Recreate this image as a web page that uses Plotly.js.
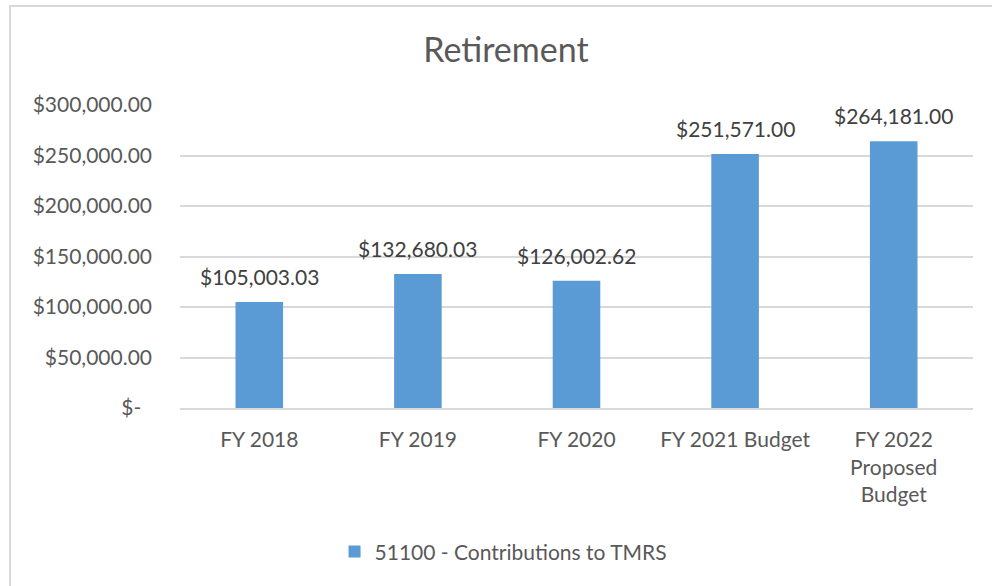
<!DOCTYPE html>
<html>
<head>
<meta charset="utf-8">
<script src="https://cdn.plot.ly/plotly-3.0.1.min.js"></script>
<style>
  body { margin: 0; background: #fff; }
  #frame { position: absolute; left: 9px; top: 5px; width: 990px; height: 590px;
           border-left: 2px solid #d9d9d9; border-top: 2px solid #d9d9d9; }
  #graph { position: absolute; left: 0; top: 0; width: 992px; height: 586px; }
</style>
</head>
<body>
<div id="frame"></div>
<div id="graph"></div>
<script>
const years = ['FY 2018', 'FY 2019', 'FY 2020', 'FY 2021 Budget', 'FY 2022<br>Proposed<br>Budget'];
const contributions = [105003.03, 132680.03, 126002.62, 251571.00, 264181.00];
const seriesName = '51100 - Contributions to TMRS';
const tickValues = [0, 50000, 100000, 150000, 200000, 250000, 300000];

const money = v => v === 0
  ? '$-\u00a0\u00a0'
  : '$' + v.toLocaleString('en-US', { minimumFractionDigits: 2, maximumFractionDigits: 2 });

const textColor = '#595959';
const fontFamily = 'Lato, "Open Sans", sans-serif';
const fontSize = 21;

const trace = {
  type: 'bar',
  x: years,
  y: contributions,
  name: seriesName,
  marker: { color: '#5b9bd5' },
  hoverinfo: 'none'
};

// value labels above each bar
const labels = years.map((yr, i) => ({
  x: yr,
  y: contributions[i],
  text: money(contributions[i]),
  showarrow: false,
  yanchor: 'bottom',
  yshift: 11,
  font: { family: fontFamily, size: fontSize, color: '#404040' }
}));

const layout = {
  width: 992,
  height: 586,
  margin: { l: 180, r: 19, t: 105, b: 178 },
  paper_bgcolor: 'rgba(0,0,0,0)',
  plot_bgcolor: 'rgba(0,0,0,0)',
  font: { family: fontFamily, size: fontSize, color: textColor },
  title: {
    text: 'Retirement',
    font: { family: fontFamily, size: 34, color: textColor },
    x: 0.51,
    xanchor: 'center',
    y: 0.915,
    yanchor: 'middle'
  },
  bargap: 0.7,
  showlegend: true,
  legend: {
    orientation: 'h',
    x: 0.408,
    xanchor: 'center',
    y: -0.475,
    yanchor: 'middle',
    font: { family: fontFamily, size: fontSize, color: textColor }
  },
  xaxis: {
    type: 'category',
    showgrid: false,
    showline: true,
    linecolor: '#d9d9d9',
    linewidth: 2,
    ticks: '',
    ticklabelstandoff: 12,
    tickfont: { family: fontFamily, size: fontSize, color: textColor }
  },
  yaxis: {
    range: [0, 300000],
    tickvals: tickValues,
    ticktext: tickValues.map(money),
    showgrid: true,
    gridcolor: '#d9d9d9',
    gridwidth: 2,
    zeroline: false,
    showline: false,
    ticks: '',
    ticklabelstandoff: 27,
    tickfont: { family: fontFamily, size: fontSize, color: textColor }
  },
  annotations: labels
};

Plotly.newPlot('graph', [trace], layout, { staticPlot: true });
</script>
</body>
</html>
